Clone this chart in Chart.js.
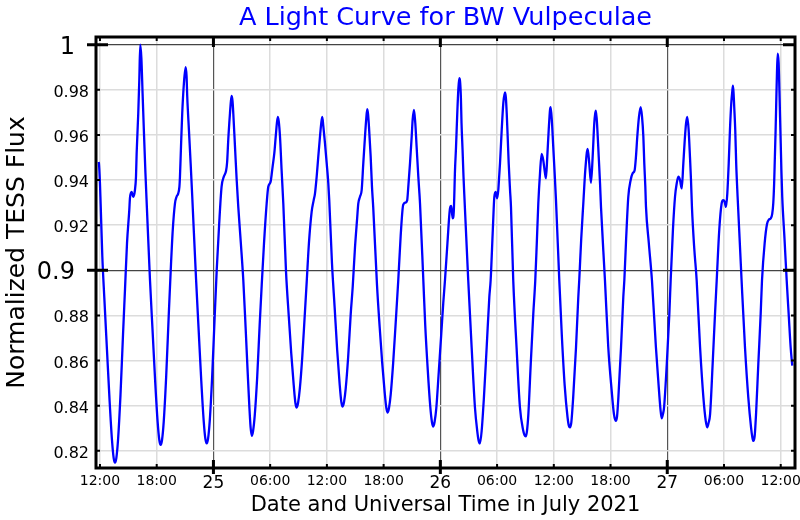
<!DOCTYPE html>
<html>
<head>
<meta charset="utf-8">
<title>A Light Curve for BW Vulpeculae</title>
<script src="https://cdn.jsdelivr.net/npm/chart.js@4.4.1/dist/chart.umd.min.js"></script>
<style>
  html, body { margin: 0; padding: 0; background: #fff; }
  #wrap { width: 800px; height: 520px; }
</style>
</head>
<body>
<div id="wrap"><canvas id="lightCurve" width="800" height="520"></canvas></div>
<script>
// hours after 2021-07-24 00:00 UT (one line per pulsation cycle)
const hours = [
  11.85, 11.89, 12.00, 12.07, 12.25, 12.46, 12.74, 13.01, 13.27, 13.45, 13.59,
  13.73, 13.91, 14.17, 14.44, 14.65, 14.86, 15.10, 15.17, 15.35, 15.52, 15.70, 15.81, 15.88, 16.05, 16.16, 16.26, 16.38, 16.51, 16.66, 16.81, 16.96, 17.29, 17.57, 17.84, 18.10, 18.28, 18.42,
  18.56, 18.74, 19.00, 19.27, 19.48, 19.70, 19.93, 20.10, 20.27, 20.40, 20.46, 20.57, 20.70, 20.88, 21.06, 21.16, 21.23, 21.41, 21.59, 21.76, 22.16, 22.44, 22.71, 22.97, 23.15, 23.29,
  23.43, 23.61, 23.87, 24.14, 24.35, 24.60, 24.86, 25.10, 25.33, 25.45, 25.57, 25.75, 25.85, 25.93, 26.02, 26.10, 26.28, 26.46, 26.63, 26.90, 27.16, 27.40, 27.62, 27.80, 27.93, 28.05,
  28.19, 28.37, 28.63, 28.90, 29.11, 29.35, 29.63, 29.80, 30.05, 30.26, 30.44, 30.62, 30.80, 30.91, 31.04, 31.21, 31.39, 31.68, 31.96, 32.23, 32.49, 32.67, 32.81,
  32.95, 33.13, 33.39, 33.66, 33.87, 34.10, 34.39, 34.60, 34.74, 34.92, 35.09, 35.27, 35.40, 35.51, 35.62, 35.80, 35.98, 36.15, 36.25, 36.54, 36.82, 37.09, 37.35, 37.53, 37.67,
  37.81, 37.99, 38.25, 38.52, 38.73, 38.97, 39.20, 39.32, 39.50, 39.68, 39.85, 40.03, 40.16, 40.27, 40.36, 40.45, 40.63, 40.77, 40.90, 41.30, 41.58, 41.85, 42.11, 42.29, 42.43,
  42.57, 42.75, 43.01, 43.28, 43.55, 43.80, 44.07, 44.30, 44.49, 44.61, 44.79, 44.97, 45.07, 45.21, 45.35, 45.49, 45.67, 45.85, 46.20, 46.40, 46.67, 46.93, 47.11, 47.25,
  47.39, 47.57, 47.83, 48.10, 48.31, 48.49, 48.75, 49.02, 49.15, 49.30, 49.42, 49.55, 49.66, 49.79, 49.90, 50.00, 50.08, 50.17, 50.24, 50.35, 50.45, 50.56, 50.95, 51.31, 51.66, 51.90, 52.05, 52.19,
  52.37, 52.61, 52.90, 53.18, 53.32, 53.55, 53.71, 53.85, 54.01, 54.13, 54.22, 54.31, 54.49, 54.66, 54.84, 54.93, 55.02, 55.12, 55.23, 55.37, 55.47, 55.71, 56.06, 56.42, 56.77, 56.90, 57.03,
  57.15, 57.31, 57.56, 57.83, 58.04, 58.20, 58.36, 58.54, 58.71, 58.88, 59.07, 59.17, 59.31, 59.46, 59.60, 59.67, 59.81, 59.94, 60.09, 60.23, 60.58, 60.85, 61.15, 61.45, 61.60, 61.71,
  61.85, 62.05, 62.35, 62.59, 62.69, 62.90, 63.12, 63.33, 63.58, 63.75, 63.93, 64.11, 64.28, 64.38, 64.46, 64.61, 64.75, 64.89, 64.99, 65.41, 65.76, 66.12, 66.36, 66.55,
  66.69, 66.83, 67.11, 67.35, 67.46, 67.65, 67.88, 68.13, 68.34, 68.55, 68.69, 68.83, 69.01, 69.19, 69.33, 69.47, 69.57, 69.68, 69.75, 70.05, 70.38, 70.80, 71.05, 71.28, 71.41,
  71.55, 71.66, 71.95, 72.22, 72.36, 72.60, 72.82, 73.00, 73.17, 73.35, 73.53, 73.70, 73.85, 73.99, 74.12, 74.26, 74.40, 74.51, 74.61, 74.85, 75.11, 75.47, 75.82, 76.07, 76.23,
  76.37, 76.53, 76.80, 77.05, 77.23, 77.50, 77.75, 77.92, 78.07, 78.21, 78.35, 78.50, 78.63, 78.77, 78.88, 78.95, 79.02, 79.08, 79.19, 79.29, 79.44, 79.86, 80.22, 80.57, 80.86, 81.00, 81.10,
  81.24, 81.39, 81.63, 81.88, 82.02, 82.30, 82.55, 82.75, 82.95, 83.10, 83.21, 83.30, 83.38, 83.46, 83.53, 83.60, 83.68, 83.78, 83.86, 83.93, 84.00, 84.07, 84.16, 84.40, 84.63, 84.85, 85.05, 85.22
];

// normalized TESS flux, same order as hours
const flux = [
  0.948, 0.9474, 0.9385, 0.9296, 0.906, 0.8878, 0.8648, 0.8428, 0.8248, 0.8168, 0.8148,
  0.8168, 0.8248, 0.8448, 0.8718, 0.8918, 0.912, 0.9267, 0.932, 0.9347, 0.9326, 0.9356, 0.9415, 0.952, 0.9696, 0.9844, 1.000, 0.994, 0.978, 0.960, 0.943, 0.928, 0.8957, 0.8727, 0.8507, 0.8327, 0.8247, 0.8227,
  0.8247, 0.8327, 0.8527, 0.8797, 0.8997, 0.918, 0.9296, 0.9326, 0.934, 0.937, 0.9415, 0.9548, 0.9696, 0.983, 0.990, 0.986, 0.977, 0.962, 0.9474, 0.9326, 0.8963, 0.8733, 0.8513, 0.8333, 0.8253, 0.8233,
  0.8253, 0.8333, 0.8533, 0.8803, 0.9003, 0.920, 0.937, 0.9415, 0.944, 0.948, 0.958, 0.9696, 0.975, 0.9773, 0.975, 0.9696, 0.9548, 0.940, 0.928, 0.912, 0.8956, 0.875, 0.855, 0.8395, 0.8305, 0.8267,
  0.8287, 0.8357, 0.8527, 0.8767, 0.8937, 0.912, 0.9296, 0.937, 0.9393, 0.946, 0.9519, 0.9608, 0.968, 0.966, 0.9593, 0.9444, 0.9296, 0.8992, 0.8802, 0.8632, 0.8492, 0.8412, 0.8392,
  0.8412, 0.8472, 0.8612, 0.8802, 0.8952, 0.912, 0.926, 0.931, 0.934, 0.9415, 0.9504, 0.9593, 0.965, 0.968, 0.964, 0.9563, 0.9474, 0.9385, 0.9311, 0.903, 0.8836, 0.8646, 0.8496, 0.8416, 0.8396,
  0.8416, 0.8476, 0.8616, 0.8806, 0.8926, 0.910, 0.923, 0.9296, 0.9326, 0.9356, 0.9474, 0.9593, 0.967, 0.9714, 0.969, 0.9637, 0.9504, 0.937, 0.928, 0.8935, 0.875, 0.859, 0.846, 0.839, 0.837,
  0.839, 0.845, 0.859, 0.877, 0.8956, 0.915, 0.929, 0.930, 0.931, 0.937, 0.9474, 0.9593, 0.9667, 0.9711, 0.9652, 0.9548, 0.9415, 0.9296, 0.8956, 0.8758, 0.8558, 0.8398, 0.8328, 0.8308,
  0.8328, 0.8388, 0.8548, 0.872, 0.8856, 0.8956, 0.912, 0.9274, 0.9285, 0.923, 0.926, 0.9444, 0.9548, 0.9696, 0.980, 0.9852, 0.984, 0.977, 0.9652, 0.9533, 0.9415, 0.9311, 0.8956, 0.8659, 0.8392, 0.8289, 0.8245, 0.8233,
  0.8289, 0.8437, 0.8659, 0.8881, 0.8956, 0.918, 0.9326, 0.9348, 0.9319, 0.9356, 0.9415, 0.9474, 0.9622, 0.9741, 0.9788, 0.9765, 0.9696, 0.9593, 0.9474, 0.9356, 0.9281, 0.8956, 0.8659, 0.8392, 0.8289, 0.827, 0.8264,
  0.8284, 0.8363, 0.8585, 0.8807, 0.8956, 0.912, 0.9296, 0.943, 0.9516, 0.9489, 0.943, 0.9408, 0.9504, 0.9622, 0.9711, 0.9723, 0.9652, 0.9548, 0.943, 0.9311, 0.8956, 0.871, 0.849, 0.835, 0.831, 0.8304,
  0.8325, 0.8437, 0.8659, 0.8881, 0.8956, 0.914, 0.9296, 0.9444, 0.9538, 0.9474, 0.9388, 0.9504, 0.9652, 0.9695, 0.9708, 0.9622, 0.9504, 0.9385, 0.9281, 0.8956, 0.8659, 0.8467, 0.8363, 0.8333,
  0.8353, 0.8437, 0.8659, 0.8881, 0.8956, 0.914, 0.9326, 0.940, 0.943, 0.9444, 0.9504, 0.9593, 0.9681, 0.9723, 0.9681, 0.9593, 0.9474, 0.937, 0.9281, 0.912, 0.8956, 0.8659, 0.8511, 0.8385, 0.8344,
  0.8364, 0.8392, 0.8585, 0.8807, 0.8956, 0.918, 0.9326, 0.9385, 0.9415, 0.940, 0.9363, 0.9474, 0.9578, 0.9652, 0.968, 0.9622, 0.9504, 0.940, 0.9281, 0.910, 0.8956, 0.8659, 0.8437, 0.8333, 0.8304,
  0.8324, 0.8363, 0.8585, 0.8807, 0.8956, 0.918, 0.9296, 0.9311, 0.9304, 0.9281, 0.934, 0.9474, 0.9622, 0.9741, 0.9795, 0.9818, 0.978, 0.9726, 0.9622, 0.9474, 0.9326, 0.8956, 0.8659, 0.8437, 0.8304, 0.826, 0.8244,
  0.8264, 0.8363, 0.8585, 0.8807, 0.8956, 0.912, 0.9205, 0.9225, 0.923, 0.925, 0.9296, 0.938, 0.950, 0.9622, 0.975, 0.987, 0.996, 0.9919, 0.980, 0.968, 0.9563, 0.9444, 0.9326, 0.914, 0.8956, 0.880, 0.8659, 0.8578
];

const xTickHours = [12, 18, 24, 30, 36, 42, 48, 54, 60, 66, 72, 78, 84];
const xTickLabels = ['12:00', '18:00', '25', '06:00', '12:00', '18:00', '26', '06:00', '12:00', '18:00', '27', '06:00', '12:00'];
const dayStartHours = [24, 48, 72];
const xRange = [11.58, 85.51];

const yTickValues = [0.82, 0.84, 0.86, 0.88, 0.9, 0.92, 0.94, 0.96, 0.98, 1];
const yTickLabels = ['0.82', '0.84', '0.86', '0.88', '0.9', '0.92', '0.94', '0.96', '0.98', '1'];
const yMajorValues = [0.9, 1];
const yRange = [0.8124, 1.0034];

Chart.defaults.font.family = '"DejaVu Sans", sans-serif';

// frame, inward ticks and y labels like the original plot
const frameTicks = {
    id: 'frameTicks',
    afterDraw(chart) {
        const { ctx, chartArea: a, scales: { x, y } } = chart;
        ctx.save();
        ctx.strokeStyle = '#000';
        ctx.fillStyle = '#000';

        yTickValues.forEach((v, i) => {
            const py = y.getPixelForValue(v);
            const major = yMajorValues.includes(v);
            ctx.lineWidth = major ? 3 : 2;
            ctx.beginPath();
            if (major) {
                ctx.moveTo(a.left - 9, py); ctx.lineTo(a.left + 12, py);
                ctx.moveTo(a.right - 12, py); ctx.lineTo(a.right, py);
            } else {
                ctx.moveTo(a.left, py); ctx.lineTo(a.left + 4, py);
                ctx.moveTo(a.right - 4, py); ctx.lineTo(a.right, py);
            }
            ctx.stroke();
            ctx.font = major ? '24px "DejaVu Sans"' : '16px "DejaVu Sans"';
            ctx.textAlign = 'right';
            ctx.textBaseline = 'alphabetic';
            ctx.fillText(yTickLabels[i], major ? a.left - 21 : a.left - 7, py + (major ? 9 : 7));
        });

        xTickHours.forEach(h => {
            const px = x.getPixelForValue(h);
            const major = dayStartHours.includes(h);
            ctx.lineWidth = major ? 3 : 2;
            ctx.beginPath();
            if (major) {
                ctx.moveTo(px, a.bottom - 8); ctx.lineTo(px, a.bottom + 6);
                ctx.moveTo(px, a.top - 1); ctx.lineTo(px, a.top + 10);
            } else {
                ctx.moveTo(px, a.bottom - 4); ctx.lineTo(px, a.bottom);
                ctx.moveTo(px, a.top); ctx.lineTo(px, a.top + 4);
            }
            ctx.stroke();
        });

        ctx.lineWidth = 3;
        ctx.strokeRect(a.left, a.top, a.right - a.left, a.bottom - a.top);
        ctx.restore();
    }
};

new Chart(document.getElementById('lightCurve'), {
    type: 'line',
    data: {
        datasets: [{
            label: 'BW Vul',
            data: hours.map((h, i) => ({ x: h, y: flux[i] })),
            borderColor: '#0000ff',
            borderWidth: 2.3,
            pointRadius: 0,
            cubicInterpolationMode: 'monotone',
            fill: false
        }]
    },
    options: {
        responsive: false,
        animation: false,
        layout: { padding: { left: 0, right: 5, top: 0, bottom: 0 } },
        plugins: {
            legend: { display: false },
            tooltip: { enabled: false },
            title: {
                display: true,
                text: 'A Light Curve for BW Vulpeculae',
                color: '#0000ff',
                fullSize: false,
                font: { size: 25.5, weight: 'normal' },
                padding: { top: 3.2, bottom: 3.2 }
            }
        },
        scales: {
            x: {
                type: 'linear',
                min: xRange[0],
                max: xRange[1],
                afterBuildTicks: s => { s.ticks = xTickHours.map(h => ({ value: h, major: dayStartHours.includes(h) })); },
                afterFit: s => { s.height = 52; s.paddingLeft = 0; s.paddingRight = 0; },
                border: { display: false },
                grid: {
                    drawTicks: false,
                    color: c => dayStartHours.includes(c.tick.value) ? '#555' : '#dcdcdc',
                    lineWidth: c => dayStartHours.includes(c.tick.value) ? 1.2 : 1.5
                },
                ticks: {
                    autoSkip: false,
                    maxRotation: 0,
                    padding: 5,
                    color: '#000',
                    font: c => ({ size: c.tick && c.tick.major ? 17 : 14 }),
                    callback: (v, i) => xTickLabels[i]
                },
                title: {
                    display: true,
                    text: 'Date and Universal Time in July 2021',
                    color: '#000',
                    font: { size: 21 },
                    padding: { top: 1.5, bottom: 1.5 }
                }
            },
            y: {
                min: yRange[0],
                max: yRange[1],
                afterBuildTicks: s => { s.ticks = yTickValues.map(v => ({ value: v, major: yMajorValues.includes(v) })); },
                afterFit: s => { s.width = 96; },
                border: { display: false },
                grid: {
                    drawTicks: false,
                    color: c => yMajorValues.includes(c.tick.value) ? '#444' : '#dcdcdc',
                    lineWidth: c => yMajorValues.includes(c.tick.value) ? 1.2 : 1.5
                },
                ticks: { display: false },
                title: {
                    display: true,
                    text: 'Normalized TESS Flux',
                    color: '#000',
                    font: { size: 25 },
                    padding: { top: 2, bottom: 2 }
                }
            }
        }
    },
    plugins: [frameTicks]
});
</script>
</body>
</html>
